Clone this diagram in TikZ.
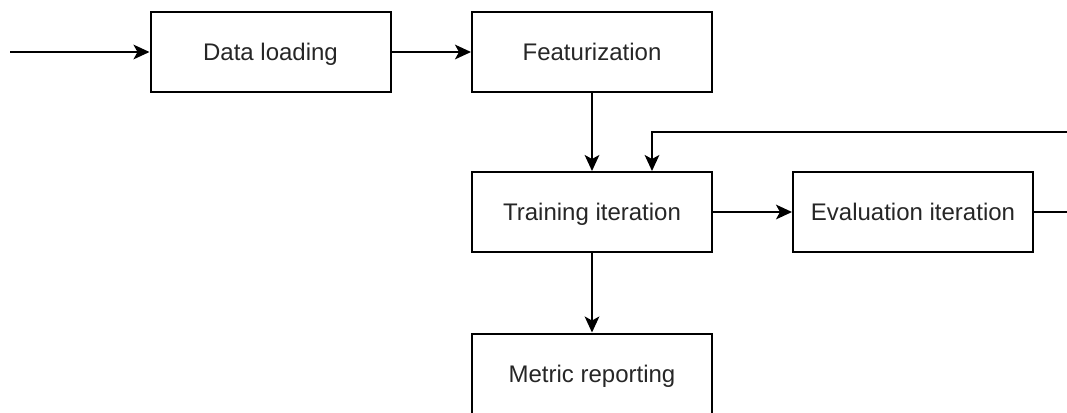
\documentclass[tikz,border=0pt]{standalone}
\usepackage{fontspec}
\setmainfont{Liberation Sans}
\usetikzlibrary{arrows.meta}
\begin{document}
\begin{tikzpicture}[x=0.75pt,y=-0.75pt,
  box/.style={draw=black,line width=1.5pt,minimum width=180pt,minimum height=60pt,inner sep=0pt,font=\fontsize{18}{21}\selectfont,text=black!85,text height=12.9pt,text depth=0pt},
  conn/.style={draw=black,line width=1.5pt,-{Stealth[length=12pt,width=11pt,inset=3pt]}},
  plain/.style={draw=black,line width=1.5pt}]
\useasboundingbox (0,0) rectangle (1067,412);
\clip (0,0) rectangle (1067,412);
\node[box] (load) at (270.5,52) {Data loading};
\node[box] (feat) at (592,52) {Featurization};
\node[box] (train) at (592,212) {Training iteration};
\node[box] (eval) at (913,212) {Evaluation iteration};
\node[box,anchor=north] (metric) at (592,332.5) {Metric reporting};
\coordinate (start) at (10,52);
\coordinate (r1) at (1080,212);
\coordinate (r2) at (1080,132);
\coordinate (l2) at (652,132);
\draw[conn] (start) -- (load);
\draw[conn] (load) -- (feat);
\draw[conn] (feat) -- (train);
\draw[conn] (train) -- (eval);
\draw[conn] (train) -- (metric);
\draw[plain] (eval) -- (r1);
\draw[conn] (r2) -- (l2) -- (train.north -| l2);
\end{tikzpicture}
\end{document}
